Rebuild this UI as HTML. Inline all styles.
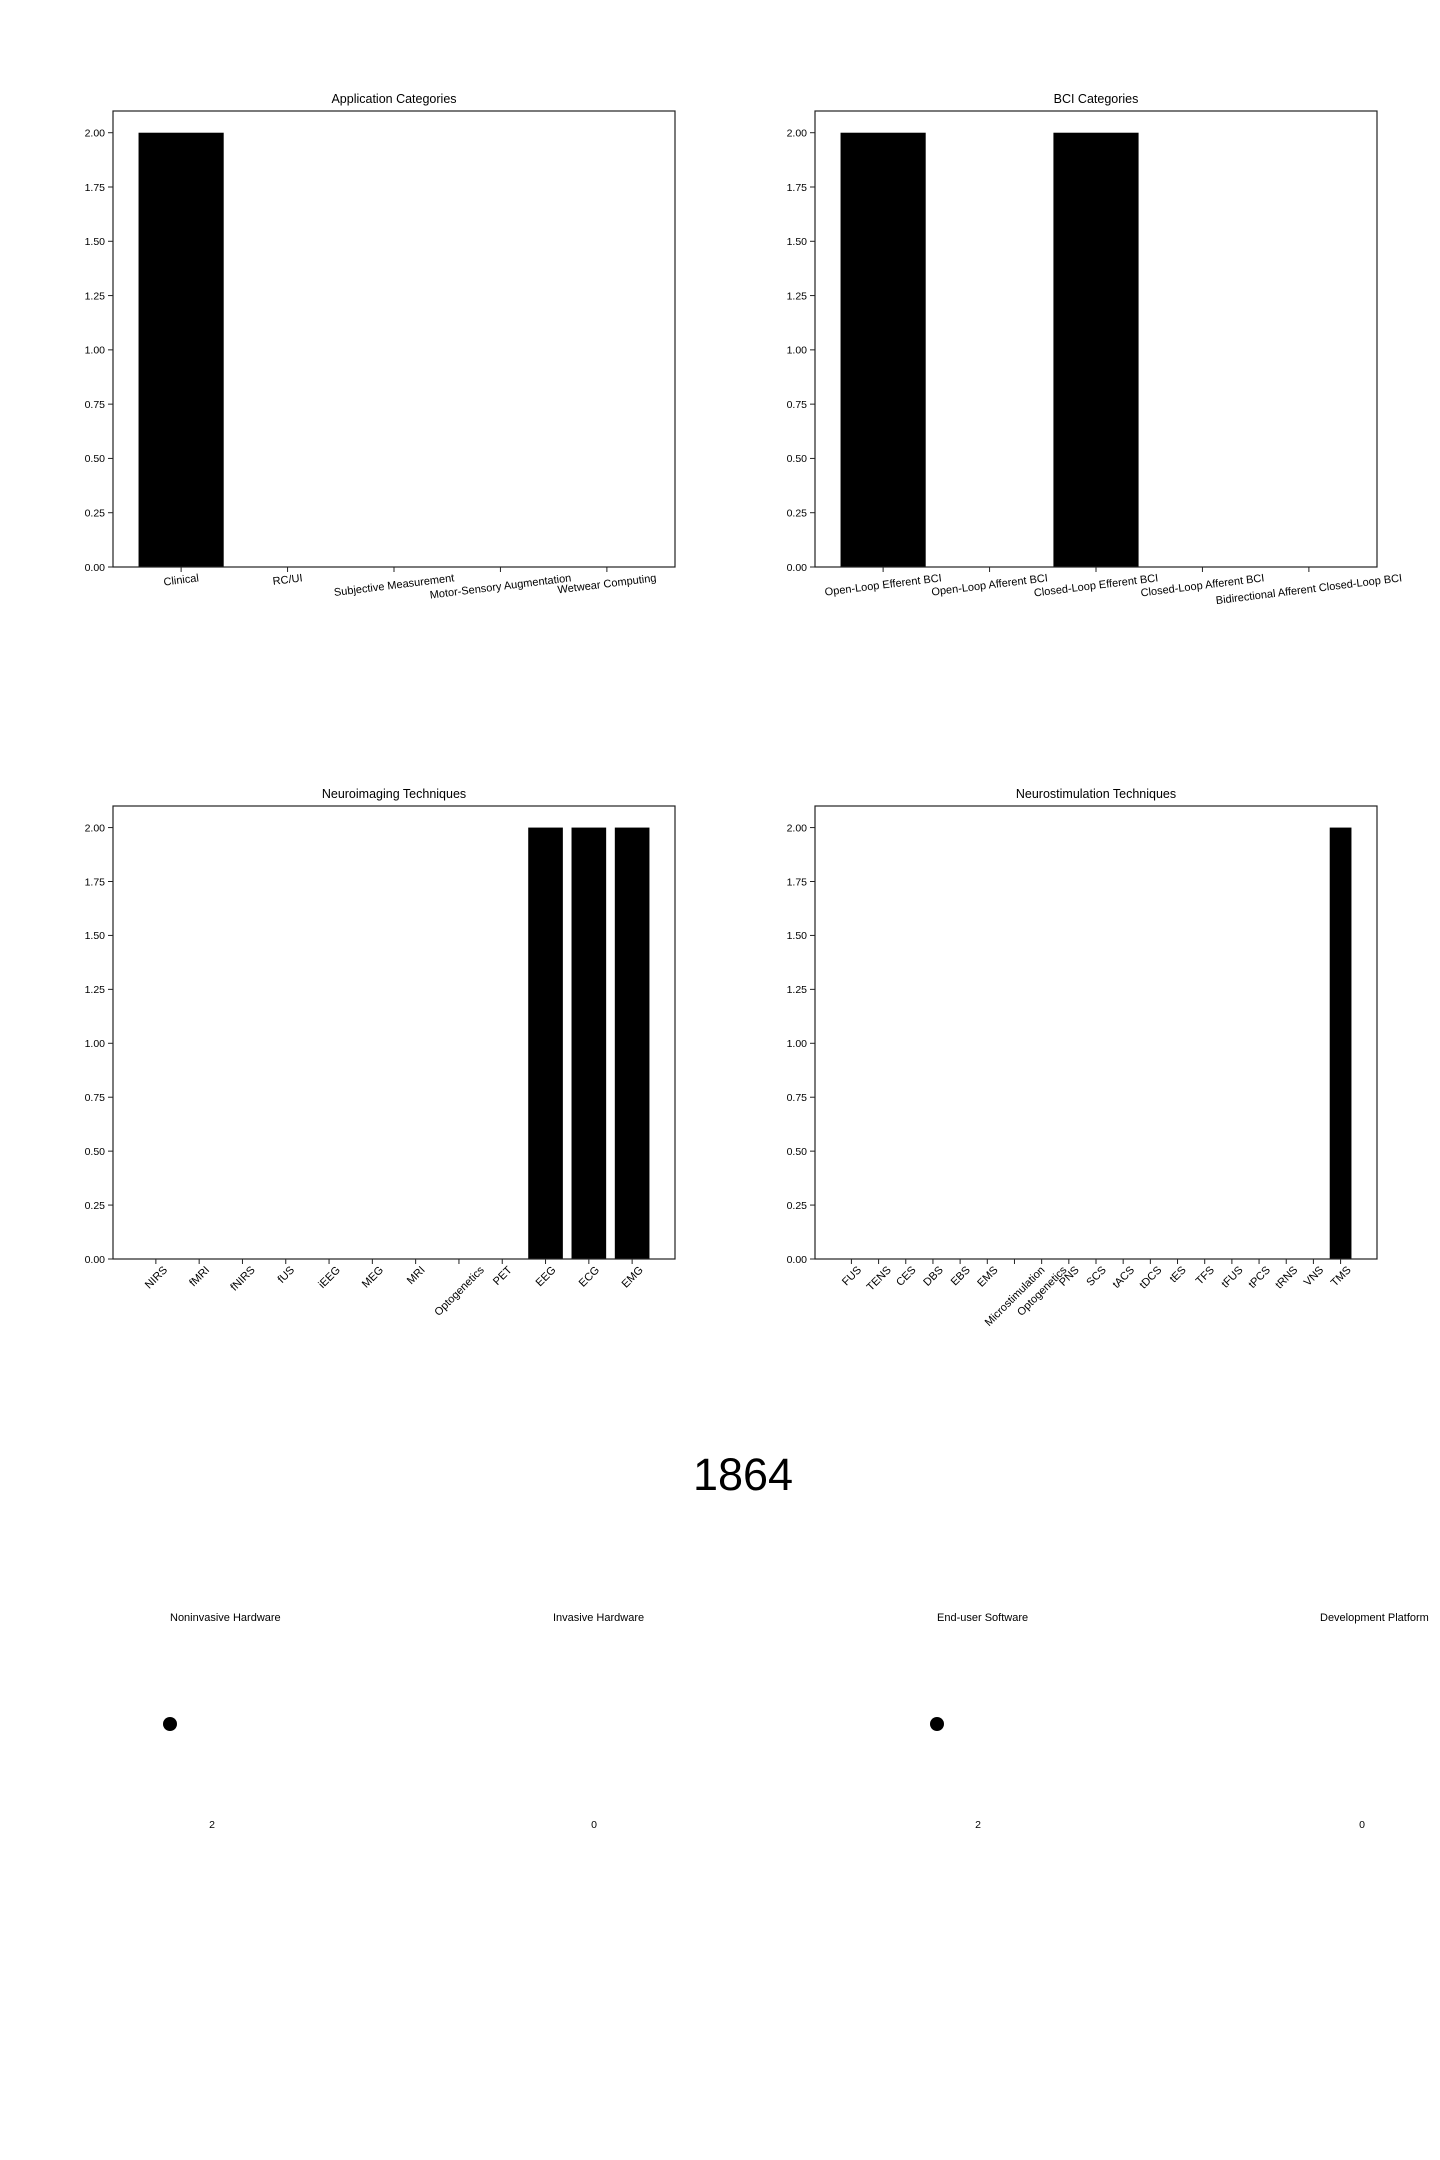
<!DOCTYPE html>
<html><head><meta charset="utf-8"><style>
html,body{margin:0;padding:0;background:#fff;}
svg{display:block;font-family:"Liberation Sans","DejaVu Sans",sans-serif;}
</style></head>
<body>
<svg id="fig" width="1440" height="2160" viewBox="0 0 1440 2160" xmlns="http://www.w3.org/2000/svg">
<rect width="1440" height="2160" fill="#fff"/>
<text x="743" y="1490" font-size="45" text-anchor="middle" fill="#000">1864</text>
</svg>
<script>
const appCategories = ["Clinical","RC/UI","Subjective Measurement","Motor-Sensory Augmentation","Wetwear Computing"];
const appValues = [2,0,0,0,0];
const bciCategories = ["Open-Loop Efferent BCI","Open-Loop Afferent BCI","Closed-Loop Efferent BCI","Closed-Loop Afferent BCI","Bidirectional Afferent Closed-Loop BCI"];
const bciValues = [2,0,2,0,0];
const imgCategories = ["NIRS","fMRI","fNIRS","fUS","iEEG","MEG","MRI","Optogenetics","PET","EEG","ECG","EMG"];
const imgValues = [0,0,0,0,0,0,0,0,0,2,2,2];
const stimCategories = ["FUS","TENS","CES","DBS","EBS","EMS","Microstimulation","Optogenetics","PNS","SCS","tACS","tDCS","tES","TFS","tFUS","tPCS","tRNS","VNS","TMS"];
const stimValues = [0,0,0,0,0,0,0,0,0,0,0,0,0,0,0,0,0,0,2];
const yTicks = [0,0.25,0.5,0.75,1,1.25,1.5,1.75,2];
const yTickLabels = ["0.00","0.25","0.50","0.75","1.00","1.25","1.50","1.75","2.00"];
const typeLabels = ["Noninvasive Hardware","Invasive Hardware","End-user Software","Development Platform"];
const typeValues = [2,0,2,0];

const NS="http://www.w3.org/2000/svg";
const svg=document.getElementById('fig');
function mk(tag,attrs,parent){const e=document.createElementNS(NS,tag);for(const k in attrs)e.setAttribute(k,attrs[k]);(parent||svg).appendChild(e);return e;}

function barChart(name,title,cats,vals,box,rot){
  const g=mk('g',{});
  
  
  const n=cats.length, m=0.05*(n-1+0.8);
  const x0=-0.4-m, x1=n-1+0.4+m;
  const X=v=>box.l+(v-x0)/(x1-x0)*(box.r-box.l);
  const Y=v=>box.b-(v/2.1)*(box.b-box.t);
  const bw=X(0.8)-X(0);
  vals.forEach((v,i)=>{
    if(v<=0)return;
    const r=mk('rect',{x:X(i)-bw/2,y:Y(v),width:bw,height:Y(0)-Y(v),fill:'#000'},g);
    
    
  });
  const frame=mk('rect',{x:box.l,y:box.t,width:box.r-box.l,height:box.b-box.t,fill:'none',stroke:'#222','stroke-width':1.2},g);
  
  
  const tt=mk('text',{x:(box.l+box.r)/2,y:box.t-8,'font-size':12.5,'text-anchor':'middle',fill:'#000'},g);
  tt.textContent=title;
  
  
  yTicks.forEach((t,i)=>{
    const y=Y(t);
    mk('line',{x1:box.l-5,x2:box.l,y1:y,y2:y,stroke:'#222','stroke-width':1},g);
    const l=mk('text',{x:box.l-8,y:y+3.8,'font-size':10.5,'text-anchor':'end',fill:'#000'},g);
    l.textContent=yTickLabels[i];
    
    
  });
  cats.forEach((c,i)=>{
    const x=X(i);
    mk('line',{x1:x,x2:x,y1:box.b,y2:box.b+5,stroke:'#222','stroke-width':1},g);
    const l=mk('text',{x:0,y:0,'font-size':11,'text-anchor':'middle',fill:'#000'},g);
    l.textContent=c;
    
    
    const w=l.getComputedTextLength(), h=11;
    const a=rot*Math.PI/180;
    const bh=Math.abs(w*Math.sin(a))+Math.abs(h*Math.cos(a));
    const cy=box.b+5+bh/2;
    l.setAttribute('transform',`translate(${x},${cy}) rotate(${-rot}) translate(0,${h*0.35})`);
  });
}
barChart('application-categories-chart','Application Categories',appCategories,appValues,{l:113,r:675,t:111,b:567},7);
barChart('bci-categories-chart','BCI Categories',bciCategories,bciValues,{l:815,r:1377,t:111,b:567},7);
barChart('neuroimaging-chart','Neuroimaging Techniques',imgCategories,imgValues,{l:113,r:675,t:806,b:1259},45);
barChart('neurostimulation-chart','Neurostimulation Techniques',stimCategories,stimValues,{l:815,r:1377,t:806,b:1259},45);

const typeX=[170,553,937,1320];
const valueX=[212,594,978,1362];
typeLabels.forEach((t,i)=>{
  const tl=mk('text',{x:typeX[i],y:1621,'font-size':11,fill:'#000'});
  tl.textContent=t;
  
  
  if(typeValues[i]>0){
    const c=mk('circle',{cx:typeX[i],cy:1724,r:7,fill:'#000'});
    
    
  }
  const v=mk('text',{x:valueX[i],y:1828,'font-size':10.5,'text-anchor':'middle',fill:'#000'});
  v.textContent=String(typeValues[i]);
  
  
});
</script>
</body></html>
